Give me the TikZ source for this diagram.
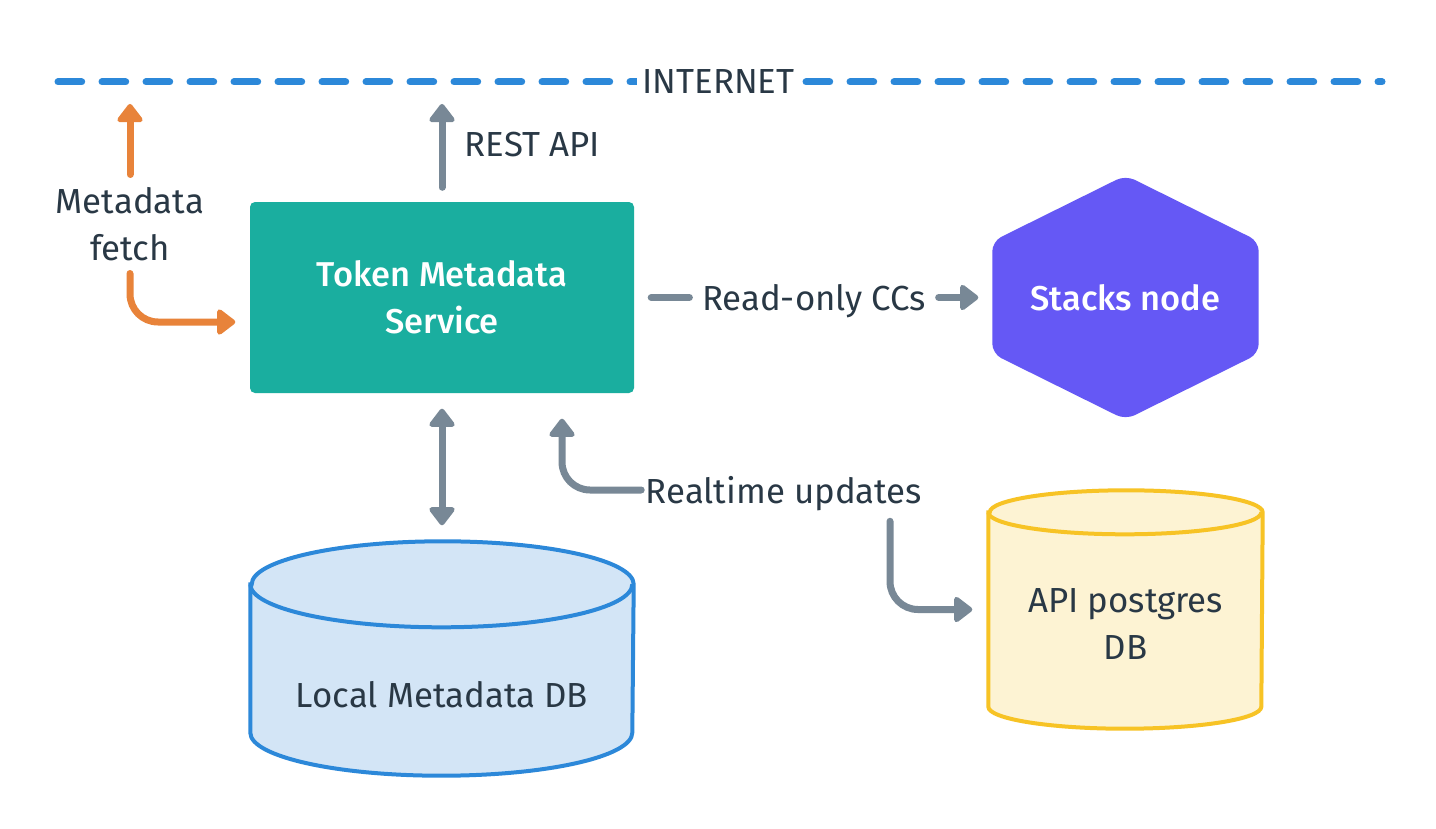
\documentclass[tikz,border=0pt]{standalone}
\usepackage{fontspec}
\setmainfont{Fira Sans}
\newfontfamily\medfont{Fira Sans Medium}
\usepackage{xcolor}
\usetikzlibrary{arrows.meta,positioning,calc}

\definecolor{inkdark}{HTML}{293845}
\definecolor{tealbox}{HTML}{1AAE9F}
\definecolor{hexpurple}{HTML}{6558F5}
\definecolor{flowgray}{HTML}{788896}
\definecolor{floworange}{HTML}{E8833A}
\definecolor{netblue}{HTML}{2C88D9}
\definecolor{dbbluefill}{HTML}{D3E5F6}
\definecolor{dbyellow}{HTML}{F7C325}
\definecolor{dbyellowfill}{HTML}{FDF3D3}

\begin{document}
\begin{tikzpicture}[
    font=\fontsize{9.9pt}{13.4pt}\selectfont,
    every node/.style={text=inkdark},
    lbl/.style={inner sep=0.12cm, align=center},
    whitetext/.style={text=white, align=center, font=\medfont\fontsize{9.8pt}{13.4pt}\selectfont},
    flow/.style={line width=0.07cm, line cap=round, rounded corners=0.28cm},
    grayflow/.style={flow, draw=flowgray},
    orangeflow/.style={flow, draw=floworange},
    arrowhead/.style={-{Triangle[length=0.2cm,width=0.29cm,round]}},
    dbline/.style={line width=0.04cm}
  ]
    % canvas
    \path[fill=white,use as bounding box] (0,0) rectangle (14.36,8.28);

    % internet line
    \coordinate (netL) at (0.58,7.46);
    \coordinate (netR) at (13.82,7.46);
    \draw[netblue, line width=0.07cm, line cap=round, dash pattern=on 0.237cm off 0.203cm] (netL) -- (netR);
    \node[fill=white, inner xsep=0.05cm] (internet) at (7.185,7.46) {INTERNET};

    % service
    \node[fill=tealbox, rounded corners=0.05cm, minimum width=3.84cm, minimum height=1.91cm, whitetext] (token) at (4.42,5.305) {Token Metadata\\Service};

    % stacks node
    \node[minimum width=2.65cm, minimum height=2.43cm, inner sep=0pt] (stacks) at (11.255,5.305) {};
    \fill[hexpurple, rounded corners=0.1cm] (stacks.north) -- ([yshift=-0.66cm]stacks.north east) -- ([yshift=0.66cm]stacks.south east) -- (stacks.south) -- ([yshift=0.66cm]stacks.south west) -- ([yshift=-0.66cm]stacks.north west) -- cycle;
    \node[whitetext] at (stacks.center) {Stacks node};

    % local db
    \node[minimum width=3.82cm, minimum height=2.33cm, inner sep=0pt] (localdb) at (4.42,1.695) {};
    \draw[dbline, draw=netblue, fill=dbbluefill] ([yshift=-0.43cm]localdb.north west) -- ([yshift=0.43cm]localdb.south west) arc[start angle=180, end angle=360, x radius=1.91cm, y radius=0.43cm] -- ([yshift=-0.43cm]localdb.north east) arc[start angle=0, end angle=180, x radius=1.91cm, y radius=0.43cm] -- cycle;
    \draw[dbline, draw=netblue] ([yshift=-0.43cm]localdb.north west) arc[start angle=180, end angle=360, x radius=1.91cm, y radius=0.43cm];
    \node at ([yshift=-0.365cm]localdb.center) {Local Metadata DB};

    % api db
    \node[minimum width=2.73cm, minimum height=2.37cm, inner sep=0pt] (apidb) at (11.255,2.185) {};
    \draw[dbline, draw=dbyellow, fill=dbyellowfill] ([yshift=-0.22cm]apidb.north west) -- ([yshift=0.22cm]apidb.south west) arc[start angle=180, end angle=360, x radius=1.365cm, y radius=0.22cm] -- ([yshift=-0.22cm]apidb.north east) arc[start angle=0, end angle=180, x radius=1.365cm, y radius=0.22cm] -- cycle;
    \draw[dbline, draw=dbyellow] ([yshift=-0.22cm]apidb.north west) arc[start angle=180, end angle=360, x radius=1.365cm, y radius=0.22cm];
    \node[align=center] at ([yshift=-0.145cm]apidb.center) {API postgres\\DB};

    % labels
    \node[lbl] (fetch) at (1.30,6.04) {Metadata\\fetch};
    \node[lbl, anchor=west] (rest) at (4.52,6.83) {REST API};
    \node[lbl, text depth=0pt] (readonly) at (8.14,5.305) {Read-only CCs};
    \node[lbl, text depth=0pt, inner xsep=0.04cm] (realtime) at (7.84,3.38) {Realtime updates};
    \coordinate (fetchtop) at (1.30,7.24);
    \coordinate (resttop) at (4.42,7.24);

    % metadata fetch
    \draw[orangeflow, arrowhead] (fetch.north) -- (fetchtop);
    \draw[orangeflow, arrowhead] (fetch.south) |- ([xshift=-0.14cm,yshift=-0.245cm]token.west);

    % service connections
    \draw[grayflow, arrowhead] ([yshift=0.14cm]token.north) -- (resttop);
    \draw[grayflow] ([xshift=0.165cm]token.east) -- (readonly.west);
    \draw[grayflow, arrowhead] (readonly.east) -- ([xshift=-0.14cm]stacks.west);
    \draw[grayflow, {Triangle[length=0.2cm,width=0.29cm,round]}-{Triangle[length=0.2cm,width=0.29cm,round]}] ([yshift=-0.15cm]token.south) -- ([yshift=0.16cm]localdb.north);
    \draw[grayflow, arrowhead] (realtime.west) -| ([xshift=1.2cm,yshift=-0.25cm]token.south);
    \draw[grayflow, arrowhead] ([xshift=1.06cm,yshift=-0.05cm]realtime.south) |- ([xshift=-0.16cm]apidb.west);
\end{tikzpicture}
\end{document}
